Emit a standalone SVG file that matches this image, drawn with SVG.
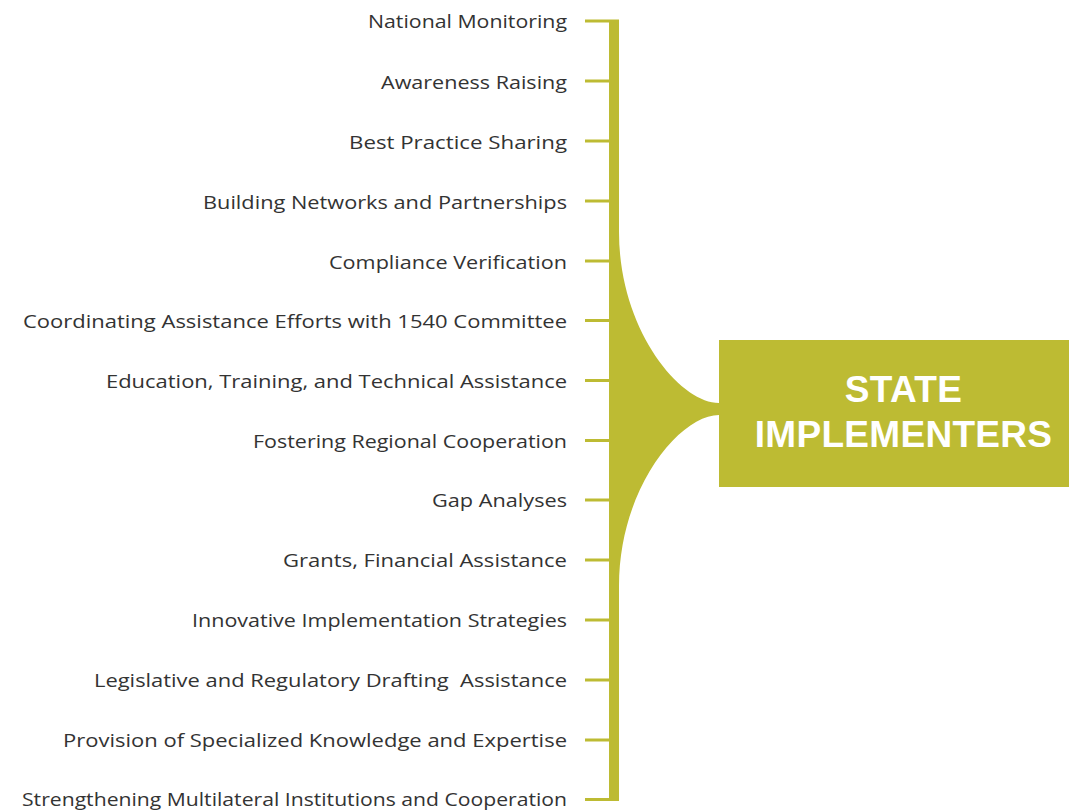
<svg xmlns="http://www.w3.org/2000/svg" width="1069" height="812" viewBox="0 0 1069 812">
<style>
.lbl{font-family:"Open Sans","Liberation Sans",Arial,sans-serif;font-size:19px;fill:#333;text-anchor:end}
.tick{stroke:#bdbb33;stroke-width:3;fill:none}
.olive{fill:#bdbb33}
.title{font-family:"Liberation Sans",Arial,sans-serif;font-size:37px;font-weight:bold;fill:#fff;text-anchor:middle;letter-spacing:0.3px}
</style>
<rect width="1069" height="812" fill="#fff"/>
<g id="connectors">
<path class="olive" d="M609,19.5 H619 V232 C619,330 680,403 719,403 V415 C680,415 619,488 619,586 V801 H609 Z"/>
<path class="tick" d="M585,21H609M585,81H609M585,141H609M585,201H609M585,261H609M585,320.5H609M585,380.5H609M585,440.5H609M585,500H609M585,560H609M585,620H609M585,680H609M585,740H609M585,799.5H609"/>
</g>
<g id="node-state-implementers">
<rect class="olive" x="719" y="340" width="350" height="147"/>
<text class="title" x="903.5" y="402">STATE</text>
<text class="title" x="903.5" y="447">IMPLEMENTERS</text>
</g>
<g id="n1"><text class="lbl" x="567" y="27.5" textLength="199" lengthAdjust="spacingAndGlyphs">National Monitoring</text></g>
<g id="n2"><text class="lbl" x="567" y="88.5" textLength="186" lengthAdjust="spacingAndGlyphs">Awareness Raising</text></g>
<g id="n3"><text class="lbl" x="567" y="148.5" textLength="218" lengthAdjust="spacingAndGlyphs">Best Practice Sharing</text></g>
<g id="n4"><text class="lbl" x="567" y="208.5" textLength="364" lengthAdjust="spacingAndGlyphs">Building Networks and Partnerships</text></g>
<g id="n5"><text class="lbl" x="567" y="268.5" textLength="238" lengthAdjust="spacingAndGlyphs">Compliance Verification</text></g>
<g id="n6"><text class="lbl" x="567" y="327.5" textLength="544" lengthAdjust="spacingAndGlyphs">Coordinating Assistance Efforts with 1540 Committee</text></g>
<g id="n7"><text class="lbl" x="567" y="387.5" textLength="461" lengthAdjust="spacingAndGlyphs">Education, Training, and Technical Assistance</text></g>
<g id="n8"><text class="lbl" x="567" y="447.5" textLength="314" lengthAdjust="spacingAndGlyphs">Fostering Regional Cooperation</text></g>
<g id="n9"><text class="lbl" x="567" y="507" textLength="135" lengthAdjust="spacingAndGlyphs">Gap Analyses</text></g>
<g id="n10"><text class="lbl" x="567" y="566.5" textLength="284" lengthAdjust="spacingAndGlyphs">Grants, Financial Assistance</text></g>
<g id="n11"><text class="lbl" x="567" y="626.5" textLength="375" lengthAdjust="spacingAndGlyphs">Innovative Implementation Strategies</text></g>
<g id="n12"><text class="lbl" x="567" y="686.5" textLength="473" lengthAdjust="spacingAndGlyphs" xml:space="preserve">Legislative and Regulatory Drafting  Assistance</text></g>
<g id="n13"><text class="lbl" x="567" y="746.5" textLength="504" lengthAdjust="spacingAndGlyphs">Provision of Specialized Knowledge and Expertise</text></g>
<g id="n14"><text class="lbl" x="567" y="806" textLength="545" lengthAdjust="spacingAndGlyphs">Strengthening Multilateral Institutions and Cooperation</text></g>
</svg>
